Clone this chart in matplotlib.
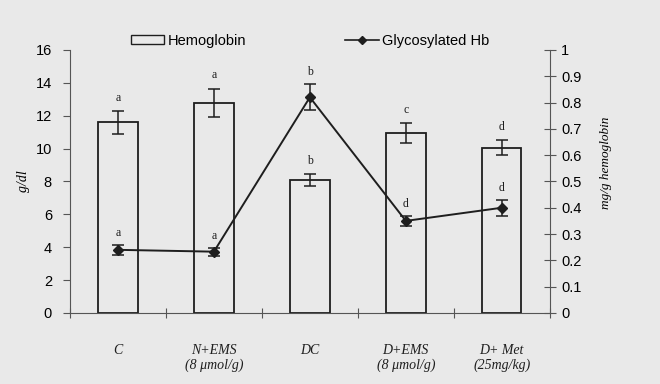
import numpy as np
import matplotlib
matplotlib.use("Agg")
import matplotlib.pyplot as plt
from matplotlib.patches import Patch
from matplotlib.lines import Line2D

groups = ["C", "N+EMS\n(8 \u03bcmol/g)", "DC", "D+EMS\n(8 \u03bcmol/g)", "D+ Met\n(25mg/kg)"]
hb = [11.6, 12.8, 8.1, 10.95, 10.05]
hb_err = [0.7, 0.85, 0.37, 0.6, 0.45]
hb_sig = ["a", "a", "b", "c", "d"]
ghb = [0.24, 0.233, 0.82, 0.35, 0.40]
ghb_err = [0.02, 0.015, 0.05, 0.02, 0.03]
ghb_sig = ["a", "a", "b", "d", "d"]

ink = "#1e1e1e"
bg = "#e9e9e9"
sans = "Liberation Sans"
serif = "Liberation Serif"

fig = plt.figure(figsize=(6.6, 3.84), dpi=100, facecolor=bg)
ax = fig.add_axes([0.106, 0.185, 0.727, 0.685])
ax.set_facecolor(bg)
x = np.arange(len(groups))

ax.bar(x, hb, width=0.41, facecolor="none", edgecolor=ink, linewidth=1.3, zorder=2)
ax.errorbar(x, hb, yerr=hb_err, fmt="none", ecolor=ink, elinewidth=1.1, capsize=4, capthick=1.1, zorder=3)
for xi, v, e, s in zip(x, hb, hb_err, hb_sig):
    ax.text(xi, v + e + 0.8, s, ha="center", va="center", fontsize=8.5, family=serif, color=ink)

ax.set_xlim(-0.5, 4.5)
ax.set_ylim(0, 16)
ax.set_yticks(np.arange(0, 17, 2))
ax.set_xticks(np.arange(-0.5, 4.6, 1))
ax.set_xticklabels([])
ax.set_xticks(x, minor=True)
ax.set_xticklabels(groups, minor=True, family=serif, style="italic", fontsize=10, color=ink)
ax.tick_params(axis="x", which="major", direction="inout", length=7, color="#555")
ax.tick_params(axis="x", which="minor", length=0, pad=22)
ax.tick_params(axis="y", direction="out", length=5, color="#555", labelsize=10.5, pad=8)
for lab in ax.get_yticklabels():
    lab.set_family(sans)
for side in ["top", "right"]:
    ax.spines[side].set_visible(False)
for side in ["left", "bottom"]:
    ax.spines[side].set_color("#555")
ax.set_ylabel("g/dl", family=serif, style="italic", fontsize=10, labelpad=4)

ax2 = ax.twinx()
ax2.plot(x, ghb, color=ink, linewidth=1.4, marker="D", markersize=5, zorder=4)
ax2.errorbar(x, ghb, yerr=ghb_err, fmt="none", ecolor=ink, elinewidth=1.1, capsize=4, capthick=1.1, zorder=4)
for xi, v, e, s in zip(x, ghb, ghb_err, ghb_sig):
    ax2.text(xi, v + e + 0.045, s, ha="center", va="center", fontsize=8.5, family=serif, color=ink)
ax2.set_ylim(0, 1)
ax2.set_yticks(np.arange(0, 1.01, 0.1))
ax2.set_yticklabels(["0", "0.1", "0.2", "0.3", "0.4", "0.5", "0.6", "0.7", "0.8", "0.9", "1"])
ax2.tick_params(axis="y", direction="inout", length=8, color="#555", labelsize=10.5, pad=4)
for lab in ax2.get_yticklabels():
    lab.set_family(sans)
for side in ["top", "left", "bottom"]:
    ax2.spines[side].set_visible(False)
ax2.spines["right"].set_color("#555")
ax2.set_ylabel("mg/g hemoglobin", family=serif, style="italic", fontsize=9.5)
ax2.yaxis.set_label_coords(1.104, 0.57)

handles = [Patch(facecolor="none", edgecolor=ink, linewidth=1.0, label="Hemoglobin"),
           Line2D([], [], color=ink, marker="D", markersize=4, linewidth=1.2, label="Glycosylated Hb")]
leg = ax.legend(handles=handles, ncol=2, loc="center", bbox_to_anchor=(0.5, 1.035),
                frameon=False, prop={"family": sans, "size": 10.5}, handlelength=2.3,
                handleheight=0.6, handletextpad=0.2, columnspacing=6.8)

fig.savefig("out.png", dpi=100, facecolor=bg)
